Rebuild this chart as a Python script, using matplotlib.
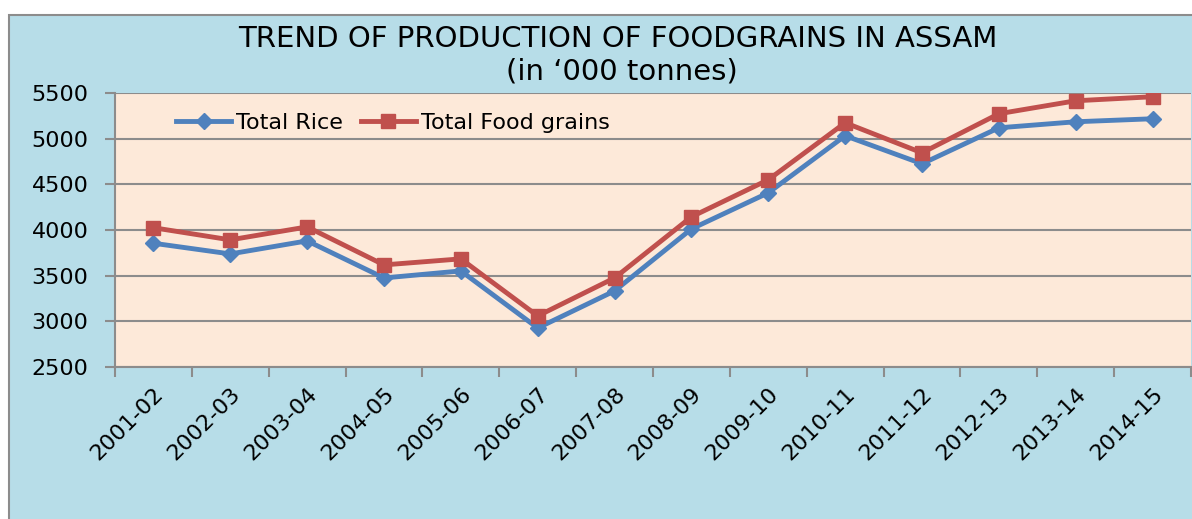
import matplotlib.pyplot as plt
from matplotlib.patches import Rectangle

# Data (in '000 tonnes)
years = ["2001-02", "2002-03", "2003-04", "2004-05", "2005-06", "2006-07", "2007-08",
         "2008-09", "2009-10", "2010-11", "2011-12", "2012-13", "2013-14", "2014-15"]
rice = [3855, 3738, 3881, 3475, 3552, 2927, 3333, 4012, 4407, 5032, 4725, 5119, 5185, 5218]
foodgrains = [4025, 3892, 4034, 3618, 3684, 3059, 3475, 4144, 4550, 5174, 4845, 5273, 5415, 5459]

fig = plt.figure(figsize=(11.92, 5.19), dpi=100)
fig.patch.set_facecolor("white")

# outer chart area (light blue, cut off at right and bottom)
W, H = 1192, 519
frame = Rectangle((9 / W, -0.05), 1.1, 1 - 15 / H + 0.05, transform=fig.transFigure,
                  facecolor="#B7DDE8", edgecolor="#8C8C8C", linewidth=1.5, zorder=-10)
fig.patches.append(frame)

ax = fig.add_axes([115 / W, 1 - 367 / H, (1191 - 115) / W, (367 - 93) / H])
ax.set_facecolor("#FDE9D9")

x = range(len(years))
ax.plot(x, rice, color="#4F81BD", lw=3.5, marker="D", ms=8, label="Total Rice")
ax.plot(x, foodgrains, color="#C0504D", lw=3.5, marker="s", ms=10, label="Total Food grains")

ax.set_xlim(-0.5, len(years) - 0.5)
ax.set_ylim(2500, 5500)
ax.set_yticks(range(2500, 5501, 500))
ax.yaxis.grid(True, color="#8C8C8C", lw=1.5)
ax.set_axisbelow(True)

ax.set_xticks([i - 0.5 for i in range(len(years) + 1)], minor=False)
ax.set_xticklabels([])
ax.set_xticks(list(x), minor=True)
ax.set_xticklabels(years, minor=True, rotation=45, ha="right", va="top",
                   rotation_mode="anchor", fontsize=16)
ax.tick_params(axis="x", which="minor", length=0, pad=12)
ax.tick_params(axis="x", which="major", length=7, color="#8C8C8C", width=1.5)
ax.tick_params(axis="y", length=7, color="#8C8C8C", width=1.5, labelsize=16, pad=12)

for s in ["top", "right"]:
    ax.spines[s].set_visible(False)
for s in ["left", "bottom"]:
    ax.spines[s].set_color("#8C8C8C")
    ax.spines[s].set_linewidth(1.5)

ax.legend(loc="upper left", bbox_to_anchor=(0.038, 1.0), ncol=2, frameon=False,
          fontsize=16, handlelength=2.5, handletextpad=0.2, columnspacing=0.8)

fig.text(0.518, 1 - 39 / H, "TREND OF PRODUCTION OF FOODGRAINS IN ASSAM",
         ha="center", va="center", fontsize=21)
fig.text(0.522, 1 - 72 / H, "(in \u2018000 tonnes)", ha="center", va="center", fontsize=21)

fig.savefig("out.png", dpi=100)
